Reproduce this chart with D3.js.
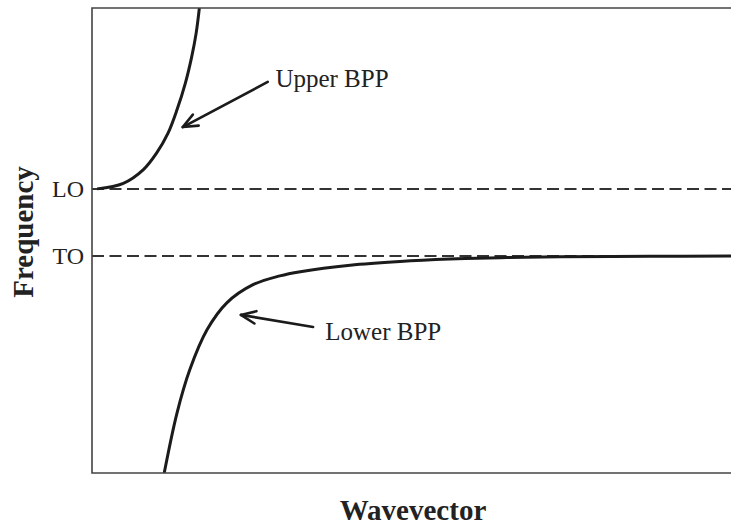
<!DOCTYPE html>
<html lang="en">
<head>
    <meta charset="UTF-8">
    <title>Polariton dispersion</title>
    <script src="https://cdn.jsdelivr.net/npm/d3@7"></script>
    <style>
  body { margin: 0; background: #fff; }
  .frame { fill: none; stroke: #444; stroke-width: 1.6px; }
  .curve { fill: none; stroke: #1b1b1b; stroke-width: 3px; }
  .level { stroke: #333; stroke-width: 2px; stroke-dasharray: 12,5.5; }
  .arrow { fill: none; stroke: #1b1b1b; stroke-width: 2.6px; stroke-linecap: round; stroke-linejoin: round; }
  text { font-family: "Liberation Serif", "Times New Roman", serif; fill: #222; }
    </style>
</head>
<body>
    <svg width="731" height="527"></svg>
    <script>

        // frequency levels
        var levelNames = ["LO", "TO"],
            levelValues = [6.11, 4.667];

        // upper branch (wavevector, frequency)
        var upperK = [0.08, 0.49, 0.80, 1.01, 1.19, 1.33, 1.46, 1.56, 1.63, 1.68],
            upperW = [6.11, 6.23, 6.52, 6.88, 7.31, 7.81, 8.38, 8.95, 9.46, 10.0];

        // lower branch
        var lowerK = [1.13, 1.33, 1.53, 1.80, 2.11, 2.52, 2.94, 3.26, 4.04, 4.82, 5.60, 6.39, 7.32, 8.73, 10.0],
            lowerW = [0.0, 1.29, 2.22, 3.08, 3.66, 4.05, 4.24, 4.33, 4.47, 4.55, 4.60, 4.63, 4.65, 4.66, 4.667];

        // labels with arrows: text position, arrow tail, arrow tip
        var labelNames = ["Upper BPP", "Lower BPP"],
            labelK = [2.87, 3.65],
            labelW = [8.30, 2.86],
            tailK = [2.75, 3.46],
            tailW = [8.41, 3.14],
            tipK = [1.42, 2.33],
            tipW = [7.44, 3.40];

        var svg = d3.select("svg"),
            plotLeft = 92, plotTop = 8, plotRight = 731, plotBottom = 473;

        var x = d3.scaleLinear().domain([0, 10]).range([plotLeft, plotRight]),
            y = d3.scaleLinear().domain([0, 10]).range([plotBottom, plotTop]);

        svg.append("clipPath").attr("id", "plot")
          .append("rect")
            .attr("x", plotLeft).attr("y", plotTop)
            .attr("width", plotRight - plotLeft).attr("height", plotBottom - plotTop);

        // dashed levels
        svg.selectAll(".level")
          .data(levelValues)
          .enter().append("line")
            .attr("class", "level")
            .attr("x1", plotLeft)
            .attr("x2", plotRight)
            .attr("y1", function(d) { return y(d); })
            .attr("y2", function(d) { return y(d); });

        svg.selectAll(".levelName")
          .data(levelNames)
          .enter().append("text")
            .attr("class", "levelName")
            .attr("x", plotLeft - 8)
            .attr("y", function(d, i) { return y(levelValues[i]) + 8; })
            .attr("text-anchor", "end")
            .style("font-size", "24px")
            .text(function(d) { return d; });

        var line = d3.line()
            .x(function(d) { return x(d[0]); })
            .y(function(d) { return y(d[1]); })
            .curve(d3.curveCatmullRom.alpha(0.5));

        var branches = [d3.zip(upperK, upperW), d3.zip(lowerK, lowerW)];

        svg.append("g").attr("clip-path", "url(#plot)")
          .selectAll(".curve")
          .data(branches)
          .enter().append("path")
            .attr("class", "curve")
            .attr("d", line);

        // frame: left, top and bottom (right side runs off the picture)
        svg.append("path")
            .attr("class", "frame")
            .attr("d", "M" + (plotRight + 2) + "," + plotTop + "H" + plotLeft + "V" + plotBottom + "H" + (plotRight + 2));

        // arrows
        labelNames.forEach(function(name, i) {
          var x0 = x(tailK[i]), y0 = y(tailW[i]),
              x1 = x(tipK[i]), y1 = y(tipW[i]),
              a = Math.atan2(y0 - y1, x0 - x1),
              len = 16, spread = 0.4;
          var p1 = [x1 + len * Math.cos(a + spread), y1 + len * Math.sin(a + spread)],
              p2 = [x1 + len * Math.cos(a - spread), y1 + len * Math.sin(a - spread)];
          svg.append("path")
              .attr("class", "arrow")
              .attr("d", "M" + x0 + "," + y0 + "L" + x1 + "," + y1);
          svg.append("path")
              .attr("class", "arrow")
              .attr("d", "M" + p1 + "L" + x1 + "," + y1 + "L" + p2);
          svg.append("text")
              .attr("x", x(labelK[i]))
              .attr("y", y(labelW[i]))
              .style("font-size", "25px")
              .text(name);
        });

        // axis titles
        svg.append("text")
            .attr("x", 413)
            .attr("y", 520)
            .attr("text-anchor", "middle")
            .style("font-size", "29px")
            .style("font-weight", "bold")
            .text("Wavevector");

        svg.append("text")
            .attr("transform", "translate(33,232) rotate(-90)")
            .attr("text-anchor", "middle")
            .style("font-size", "29px")
            .style("font-weight", "bold")
            .text("Frequency");

    </script>
</body>
</html>
